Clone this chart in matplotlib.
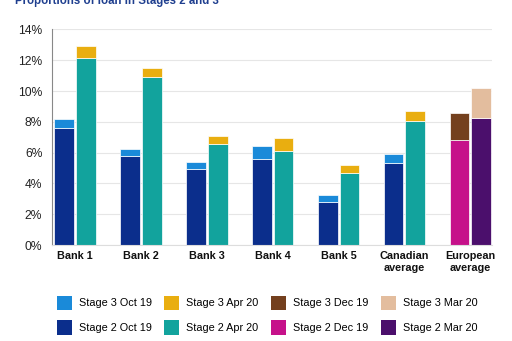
import matplotlib.pyplot as plt
from matplotlib.patches import Patch
import numpy as np

plt.rcParams["font.family"] = ["Liberation Sans", "DejaVu Sans"]

categories = ["Bank 1", "Bank 2", "Bank 3", "Bank 4", "Bank 5", "Canadian\naverage", "European\naverage"]

# Left bar of each group (Oct 19 for Canadian banks, Dec 19 for European average)
stage2_first = [7.60, 5.78, 4.93, 5.58, 2.80, 5.32, 6.80]
stage3_first = [0.56, 0.45, 0.46, 0.85, 0.48, 0.56, 1.78]
# Right bar of each group (Apr 20 for Canadian banks, Mar 20 for European average)
stage2_second = [12.14, 10.94, 6.56, 6.10, 4.67, 8.08, 8.27]
stage3_second = [0.76, 0.53, 0.54, 0.85, 0.50, 0.65, 1.91]

legend_labels = ["Stage 3 Oct 19", "Stage 2 Oct 19", "Stage 3 Apr 20", "Stage 2 Apr 20",
                 "Stage 3 Dec 19", "Stage 2 Dec 19", "Stage 3 Mar 20", "Stage 2 Mar 20"]

c_s3_oct, c_s2_oct = "#1a8ad9", "#0b2e8c"
c_s3_apr, c_s2_apr = "#e9ae10", "#12a39d"
c_s3_dec, c_s2_dec = "#74401e", "#c6118a"
c_s3_mar, c_s2_mar = "#e3bd9e", "#4b0f6c"

n = len(categories)
x = np.arange(n)
w = 0.30
off = 0.165

s2a_col = [c_s2_oct] * (n - 1) + [c_s2_dec]
s3a_col = [c_s3_oct] * (n - 1) + [c_s3_dec]
s2b_col = [c_s2_apr] * (n - 1) + [c_s2_mar]
s3b_col = [c_s3_apr] * (n - 1) + [c_s3_mar]

fig = plt.figure(figsize=(5.12, 3.41), dpi=100)
ax = fig.add_axes([0.1016, 0.2815, 0.8594, 0.632])

kw = dict(width=w, edgecolor="white", linewidth=0.5)
ax.bar(x - off, stage2_first, color=s2a_col, **kw)
ax.bar(x - off, stage3_first, bottom=stage2_first, color=s3a_col, **kw)
ax.bar(x + off, stage2_second, color=s2b_col, **kw)
ax.bar(x + off, stage3_second, bottom=stage2_second, color=s3b_col, **kw)

ax.set_ylim(0, 14)
ax.set_xlim(-0.35, n - 1 + 0.33)
ax.set_yticks(range(0, 15, 2))
ax.set_yticklabels([f"{v}%" for v in range(0, 15, 2)], fontsize=8.7, color="#222222")
ax.set_xticks(x)
ax.set_xticklabels(categories, fontsize=7.8, fontweight="bold", color="#111111", linespacing=1.3)
ax.tick_params(axis="both", length=0)
ax.tick_params(axis="y", pad=7)
ax.tick_params(axis="x", pad=4)
ax.grid(axis="y", color="#e6e6e6", linewidth=0.8)
ax.set_axisbelow(True)
for s in ["top", "right"]:
    ax.spines[s].set_visible(False)
ax.spines["left"].set_color("#888888")
ax.spines["left"].set_linewidth(0.8)
ax.spines["bottom"].set_color("#dddddd")
ax.spines["bottom"].set_linewidth(0.8)

colors = [c_s3_oct, c_s2_oct, c_s3_apr, c_s2_apr, c_s3_dec, c_s2_dec, c_s3_mar, c_s2_mar]
handles = [Patch(facecolor=c, edgecolor="none") for c in colors]
fig.legend(handles, legend_labels, ncol=4, loc="center", bbox_to_anchor=(0.522, 0.076),
           frameon=False, fontsize=7.8, handlelength=1.4, handleheight=1.65,
           handletextpad=0.65, columnspacing=1.15, labelspacing=0.95)

fig.text(15 / 512, 1 - 4 / 341, "Proportions of loan in Stages 2 and 3", fontsize=8.3,
         fontweight="bold", color="#1f3f8f", ha="left", va="baseline")

fig.savefig("out.png", dpi=100)
